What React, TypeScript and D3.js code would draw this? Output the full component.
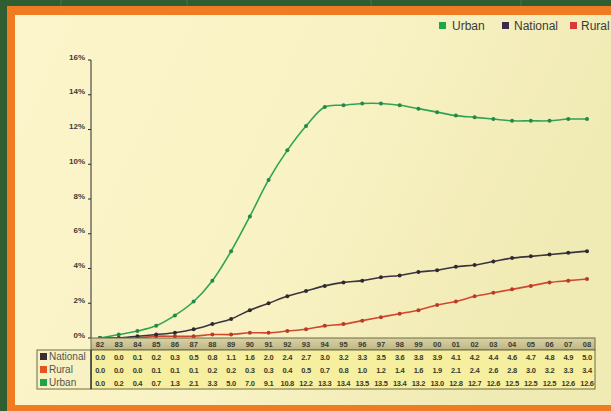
import React from "react";
import * as d3 from "d3";

const years = ["82","83","84","85","86","87","88","89","90","91","92","93","94","95","96","97","98","99","00","01","02","03","04","05","06","07","08"];
const national = [0.0,0.0,0.1,0.2,0.3,0.5,0.8,1.1,1.6,2.0,2.4,2.7,3.0,3.2,3.3,3.5,3.6,3.8,3.9,4.1,4.2,4.4,4.6,4.7,4.8,4.9,5.0];
const rural = [0.0,0.0,0.0,0.1,0.1,0.1,0.2,0.2,0.3,0.3,0.4,0.5,0.7,0.8,1.0,1.2,1.4,1.6,1.9,2.1,2.4,2.6,2.8,3.0,3.2,3.3,3.4];
const urban = [0.0,0.2,0.4,0.7,1.3,2.1,3.3,5.0,7.0,9.1,10.8,12.2,13.3,13.4,13.5,13.5,13.4,13.2,13.0,12.8,12.7,12.6,12.5,12.5,12.5,12.6,12.6];
const yTicks = [0,2,4,6,8,10,12,14,16];

const seriesList = [
  { name: "Urban", values: urban, line: "#2fa552", dot: "#23894a", legend: "#19a94b", table: "#1fa447" },
  { name: "National", values: national, line: "#3b3440", dot: "#2e2a30", legend: "#3a2a4c", table: "#3a2d35" },
  { name: "Rural", values: rural, line: "#d3472f", dot: "#b83a28", legend: "#d83b35", table: "#e0561e" },
];
const tableRows = ["National", "Rural", "Urban"];

export default function App() {
  const W = 611, H = 411;
  const x = d3.scalePoint<string>().domain(years).range([100, 587]);
  const y = d3.scaleLinear().domain([0, 16]).range([338, 60]);
  const line = d3.line<number>()
    .x((_, i) => x(years[i]) as number)
    .y((d) => y(d))
    .curve(d3.curveCatmullRom.alpha(0.5));
  const font = "'Liberation Sans', Arial, sans-serif";
  const headTop = 338, headBot = 350, bodyBot = 389;
  const rowH = (bodyBot - headBot) / 3;
  const tLeft = 91, tRight = 595, labLeft = 37;

  return (
    <svg width={W} height={H} style={{ position: "absolute", left: 0, top: 0 }} fontFamily={font}>
      <defs>
        <linearGradient id="bg" x1="0" y1="0" x2="1" y2="0.3">
          <stop offset="0" stopColor="#fcf5cb" />
          <stop offset="0.55" stopColor="#f9f2c4" />
          <stop offset="1" stopColor="#f0eab4" />
        </linearGradient>
        <linearGradient id="head" x1="0" y1="0" x2="0" y2="1">
          <stop offset="0" stopColor="#d9d2a4" />
          <stop offset="1" stopColor="#bdb583" />
        </linearGradient>
      </defs>
      <rect x={0} y={0} width={W} height={H} fill="#2f5e33" />
      {[61, 187, 371, 521].map((sx) => (
        <line key={sx} x1={sx} x2={sx} y1={0} y2={6} stroke="#3f7444" strokeWidth={1} />
      ))}
      <rect x={7} y={6} width={W} height={H} fill="#ef7b22" />
      <rect x={15} y={15} width={W - 15} height={405 - 15} fill="url(#bg)" />

      {/* legend */}
      {(() => {
        const items = [
          { s: seriesList[0], sq: 439, tx: 452 },
          { s: seriesList[1], sq: 502, tx: 514 },
          { s: seriesList[2], sq: 570, tx: 581 },
        ];
        return items.map((it) => (
          <g key={it.s.name}>
            <rect x={it.sq} y={22} width={7} height={7} fill={it.s.legend} />
            <text x={it.tx} y={29.5} fontSize={12} fill="#3a3a3a">{it.s.name}</text>
          </g>
        ));
      })()}

      {/* y axis */}
      <line x1={91} x2={91} y1={y(16)} y2={y(0)} stroke="#2a2a2a" strokeWidth={1} />
      {yTicks.map((t) => (
        <g key={t}>
          <line x1={88} x2={91} y1={y(t)} y2={y(t)} stroke="#2a2a2a" strokeWidth={1} />
          <text x={85} y={y(t) - 0.5} fontSize={8} fontWeight="bold" textAnchor="end" fill="#3a3a3a">{t}%</text>
        </g>
      ))}

      {/* lines */}
      {[seriesList[2], seriesList[1], seriesList[0]].map((s) => (
        <g key={s.name}>
          <path d={line(s.values) || ""} fill="none" stroke={s.line} strokeWidth={1.6} />
          {s.values.map((v, i) => (
            <circle key={i} cx={x(years[i]) as number} cy={y(v)} r={2} fill={s.dot} />
          ))}
        </g>
      ))}

      {/* table header */}
      <rect x={tLeft} y={headTop} width={tRight - tLeft} height={headBot - headTop} fill="url(#head)" stroke="#6e6a48" strokeWidth={1} />
      {years.map((yr) => (
        <text key={yr} x={x(yr) as number} y={headTop + 8.5} fontSize={7.5} fontWeight="bold" textAnchor="middle" fill="#3a3a30">{yr}</text>
      ))}
      {/* table body */}
      <rect x={tLeft} y={headBot} width={tRight - tLeft} height={bodyBot - headBot} fill="#f5ef9f" stroke="#6e6a48" strokeWidth={1} />
      <rect x={labLeft} y={headBot} width={tLeft - labLeft} height={bodyBot - headBot} fill="#f8f1c4" stroke="#6e6a48" strokeWidth={1} />
      <line x1={tLeft} x2={tLeft} y1={headBot} y2={bodyBot} stroke="#2a2a2a" strokeWidth={1.2} />
      {tableRows.map((rn, ri) => {
        const s = seriesList.find((d) => d.name === rn)!;
        const cy = headBot + rowH * (ri + 0.5);
        return (
          <g key={rn}>
            <rect x={40} y={cy - 3.5} width={7} height={7} fill={s.table} />
            <text x={49} y={cy + 3.5} fontSize={10} fill="#55554a">{rn}</text>
            {s.values.map((v, i) => (
              <text key={i} x={(x(years[i]) as number)} y={cy + 3} fontSize={7.5} fontWeight="bold" textAnchor="middle" fill="#3a3a2a" letterSpacing={-0.3}>{v.toFixed(1)}</text>
            ))}
          </g>
        );
      })}
    </svg>
  );
}
